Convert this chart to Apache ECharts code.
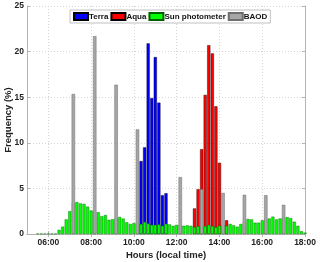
<!DOCTYPE html>
<html><head><meta charset="utf-8">
<script src="https://cdn.jsdelivr.net/npm/echarts@6/dist/echarts.min.js"></script>
<style>html,body{margin:0;padding:0;background:#fff}#c{width:320px;height:262px}</style>
</head><body><div id="c"></div>
<script>
// hour tick labels (axis spans 05:00 .. 18:00)
const hourLabels = ['05:00','06:00','07:00','08:00','09:00','10:00','11:00','12:00','13:00','14:00','15:00','16:00','17:00','18:00'];

// Terra (MODIS) overpass frequency, %
const terraTimes  = ['10:20','10:30','10:40','10:50','11:00','11:10','11:20','11:30'];
const terraValues = [8.0, 9.5, 20.9, 14.9, 19.4, 14.4, 4.25, 4.47];

// Aqua (MODIS) overpass frequency, %
const aquaTimes  = ['12:50','13:00','13:10','13:20','13:30','13:40','13:50','14:00','14:20'];
const aquaValues = [2.8, 4.9, 9.3, 15.25, 20.7, 19.8, 14.0, 7.8, 1.5];

// Sun photometer frequency, %
const sunTimes = ['05:30','05:40','05:50','06:00','06:10','06:20','06:30','06:40','06:50','07:00',
  '07:10','07:20','07:30','07:40','07:50','08:00','08:10','08:20','08:30','08:40','08:50','09:00',
  '09:10','09:20','09:30','09:40','09:50','10:00','10:10','10:20','10:30','10:40','10:50','11:00',
  '11:10','11:20','11:30','11:40','11:50','12:00','12:10','12:20','12:30','12:40','12:50','13:00',
  '13:10','13:20','13:30','13:40','13:50','14:00','14:10','14:20','14:30','14:40','14:50','15:00',
  '15:10','15:20','15:30','15:40','15:50','16:00','16:10','16:20','16:30','16:40','16:50','17:00',
  '17:10','17:20','17:30','17:40','17:50','18:00'];
const sunValues = [0.04,0.04,0.04,0.04,0.04,0.04,0.45,0.8,1.6,2.5,
  3.4,3.5,3.35,3.3,3.0,2.57,2.5,2.38,1.95,2.08,1.55,1.62,
  1.7,1.87,1.69,1.3,1.1,1.2,1.1,1.1,1.32,1.15,1.0,1.0,
  1.05,0.9,1.13,1.05,0.9,1.0,1.0,0.9,0.95,0.9,0.75,0.85,
  0.8,0.87,1.0,0.87,0.75,0.9,1.0,0.9,1.1,0.95,0.8,1.1,
  1.4,1.65,1.6,1.24,1.24,1.5,1.6,1.7,1.9,1.6,1.7,1.8,
  1.85,1.75,1.35,0.9,0.3,0.15];

// BAOD frequency, %
const baodTimes  = ['07:10','08:10','09:10','10:10','12:10','13:10','14:10','15:10','16:10','17:00'];
const baodValues = [15.35, 21.7, 16.37, 11.47, 6.24, 4.9, 4.5, 4.3, 4.25, 3.2];

function toMin(t){ const p = t.split(':'); return (+p[0])*60 + (+p[1]); }
function pairs(times, vals){ return times.map((t,i)=>[toMin(t), vals[i]]); }

const FONT = 'Liberation Sans, Arial, Helvetica, sans-serif';
const AX = '#b4b4b4';
const even = (i)=> i % 2 === 1;

const hidden = ()=>({type:'value', min:300, max:1080, show:false, gridIndex:0});

const chart = echarts.init(document.getElementById('c'), null, {renderer:'canvas'});
chart.setOption({
  animation:false,
  backgroundColor:'#fff',
  textStyle:{fontFamily:FONT},
  grid:{left:27, right:15, top:6, bottom:28, outerBoundsMode:'none', containLabel:false},
  legend:{
    data:['Terra','Aqua','Sun photometer','BAOD'],
    icon:'rect',
    left:70, top:10,
    itemWidth:14, itemHeight:7, itemGap:2,
    padding:[2,3,2,3],
    borderColor:'#b0b0b0', borderWidth:0.8, backgroundColor:'#fff',
    textStyle:{fontFamily:FONT, fontSize:8, fontWeight:'bold', color:'#111', padding:[0,0,0,-4]}
  },
  xAxis:[
    {type:'category', data:hourLabels, boundaryGap:false, position:'bottom',
     axisLine:{show:true, lineStyle:{color:AX, width:1}},
     axisTick:{show:true, inside:true, length:3, interval:(i)=>even(i), lineStyle:{color:AX}},
     axisLabel:{interval:(i)=>even(i), fontFamily:FONT, fontSize:8.5, fontWeight:'bold', color:'#222', margin:4},
     splitLine:{show:true, interval:(i)=>even(i), lineStyle:{color:'#d4d4d4', type:[1,2], width:1}},
     name:'Hours (local time)', nameLocation:'middle', nameGap:16, nameMoveOverlap:false,
     nameTextStyle:{fontFamily:FONT, fontSize:9.5, fontWeight:'bold', color:'#222'}},
    {type:'category', data:hourLabels, boundaryGap:false, position:'top',
     axisLine:{show:true, lineStyle:{color:AX, width:1}},
     axisTick:{show:true, inside:true, length:3, interval:(i)=>even(i), lineStyle:{color:AX}},
     axisLabel:{show:false}, splitLine:{show:false}},
    hidden(), hidden(), hidden(), hidden()
  ],
  yAxis:[
    {type:'value', min:0, max:25, interval:5, position:'left',
     axisLine:{show:true, lineStyle:{color:AX, width:1}},
     axisTick:{show:true, inside:true, length:3, lineStyle:{color:AX}},
     axisLabel:{fontFamily:FONT, fontSize:8.5, fontWeight:'bold', color:'#222', margin:3},
     splitLine:{show:true, lineStyle:{color:'#d4d4d4', type:[1,2], width:1}},
     name:'Frequency (%)', nameLocation:'middle', nameGap:14, nameMoveOverlap:false,
     nameTextStyle:{fontFamily:FONT, fontSize:9.5, fontWeight:'bold', color:'#222'}},
    {type:'value', min:0, max:25, interval:5, position:'right',
     axisLine:{show:true, lineStyle:{color:AX, width:1}},
     axisTick:{show:true, inside:true, length:3, lineStyle:{color:AX}},
     axisLabel:{show:false}, splitLine:{show:false}}
  ],
  series:[
    {name:'Terra', type:'bar', xAxisIndex:2, yAxisIndex:0, barWidth:3.1, data:pairs(terraTimes, terraValues),
     itemStyle:{color:'#0000ff', borderColor:'#000', borderWidth:0.4}},
    {name:'Aqua', type:'bar', xAxisIndex:3, yAxisIndex:0, barWidth:3.1, data:pairs(aquaTimes, aquaValues),
     itemStyle:{color:'#ff0000', borderColor:'#000', borderWidth:0.4}},
    {name:'Sun photometer', type:'bar', xAxisIndex:4, yAxisIndex:0, barWidth:3.0, data:pairs(sunTimes, sunValues),
     itemStyle:{color:'#00ff00', borderColor:'#006000', borderWidth:0.4}},
    {name:'BAOD', type:'bar', xAxisIndex:5, yAxisIndex:0, barWidth:3.4, data:pairs(baodTimes, baodValues),
     itemStyle:{color:'#a6a6a6', borderColor:'#6e6e6e', borderWidth:0.5}}
  ]
});
</script></body></html>
